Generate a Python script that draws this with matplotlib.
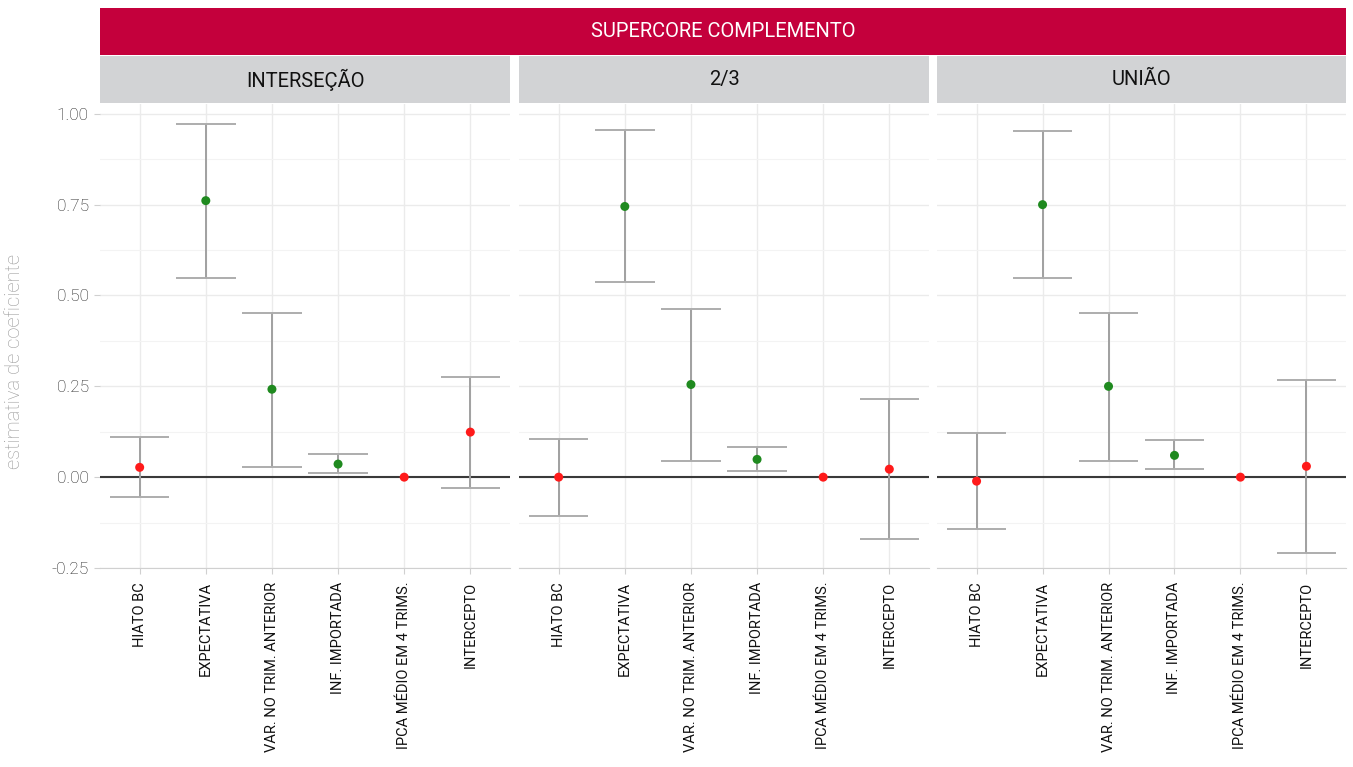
import numpy as np
import matplotlib.pyplot as plt

# categories and panels
variaveis = ["HIATO BC", "EXPECTATIVA", "VAR. NO TRIM. ANTERIOR",
             "INF. IMPORTADA", "IPCA MÉDIO EM 4 TRIMS.", "INTERCEPTO"]
paineis = ["INTERSEÇÃO", "2/3", "UNIÃO"]

# estimates, lower and upper bounds per panel
est_intersecao = [0.027, 0.761, 0.242, 0.036, 0.0, 0.124]
inf_intersecao = [-0.055, 0.549, 0.027, 0.011, 0.0, -0.030]
sup_intersecao = [0.110, 0.973, 0.453, 0.063, 0.0, 0.275]

est_23 = [0.0, 0.745, 0.255, 0.049, 0.0, 0.022]
inf_23 = [-0.107, 0.536, 0.044, 0.016, 0.0, -0.170]
sup_23 = [0.104, 0.956, 0.464, 0.082, 0.0, 0.214]

est_uniao = [-0.011, 0.750, 0.250, 0.060, 0.0, 0.030]
inf_uniao = [-0.143, 0.547, 0.044, 0.022, 0.0, -0.208]
sup_uniao = [0.121, 0.953, 0.453, 0.101, 0.0, 0.268]

# significant (green) or not (red)
signif = [False, True, True, True, False, False]

dados = [(est_intersecao, inf_intersecao, sup_intersecao),
         (est_23, inf_23, sup_23),
         (est_uniao, inf_uniao, sup_uniao)]

W, H = 1353, 767
fig = plt.figure(figsize=(W / 100, H / 100), dpi=100)
fam = ["Roboto", "DejaVu Sans"]

def px(x0, y0, w, h):
    return [x0 / W, 1 - (y0 + h) / H, w / W, h / H]

lefts = [100, 519, 937]
widths = [410, 410, 409]
top, bottom = 104, 568

# red outer strip
ax_r = fig.add_axes(px(100, 8, 1246, 47))
ax_r.set_facecolor("#c4003c")
ax_r.set_xticks([]); ax_r.set_yticks([])
for s in ax_r.spines.values():
    s.set_visible(False)
ax_r.text(0.5, 0.5, "SUPERCORE COMPLEMENTO", color="white", fontsize=14.5,
          ha="center", va="center", family=fam, transform=ax_r.transAxes)

x = np.arange(1, len(variaveis) + 1)
for i, (nome, (est, lo, hi)) in enumerate(zip(paineis, dados)):
    # gray strip
    ax_s = fig.add_axes(px(lefts[i], 56, widths[i], 47))
    ax_s.set_facecolor("#d2d3d5")
    ax_s.set_xticks([]); ax_s.set_yticks([])
    for s in ax_s.spines.values():
        s.set_visible(False)
    ax_s.text(0.5, 0.5, nome, color="#111111", fontsize=14.5, ha="center",
              va="center", family=fam, transform=ax_s.transAxes)

    ax = fig.add_axes(px(lefts[i], top, widths[i], bottom - top))
    est = np.array(est); lo = np.array(lo); hi = np.array(hi)
    ax.set_xlim(0.4, 6.6)
    ax.set_ylim(-0.25, 1.027)
    ax.set_yticks([-0.25, 0, 0.25, 0.5, 0.75, 1.0])
    ax.set_yticks(np.arange(-0.125, 1.0, 0.25), minor=True)
    ax.set_xticks(x)
    ax.grid(True, which="major", color="#ebebeb", lw=1)
    ax.grid(True, which="minor", axis="y", color="#f3f3f3", lw=0.8)
    ax.set_axisbelow(True)
    ax.axhline(0, color="#3a3a3a", lw=1.5, zorder=2)

    mask = hi > lo
    ax.vlines(x[mask], lo[mask], hi[mask], color="#a0a0a0", lw=1.4, zorder=3)
    ax.hlines(lo[mask], x[mask] - 0.45, x[mask] + 0.45, color="#adadad", lw=1.4, zorder=3)
    ax.hlines(hi[mask], x[mask] - 0.45, x[mask] + 0.45, color="#adadad", lw=1.4, zorder=3)

    cores = ["#1f8a1f" if s else "#ff1a1a" for s in signif]
    ax.scatter(x, est, c=cores, s=42, zorder=4, edgecolors="none")

    for s in ["top", "right", "left"]:
        ax.spines[s].set_visible(False)
    ax.spines["bottom"].set_color("#d0d0d0")
    ax.tick_params(axis="x", length=4, color="#d0d0d0", pad=6)
    ax.tick_params(axis="y", which="major", length=4, color="#d0d0d0", pad=4)
    ax.tick_params(axis="y", which="minor", length=0)
    ax.set_xticklabels(variaveis, rotation=90, fontsize=10.5, color="#111111",
                       family=fam, va="top", ha="center")
    if i == 0:
        ax.set_yticklabels(["-0.25", "0.00", "0.25", "0.50", "0.75", "1.00"],
                           fontsize=12.5, color="#1e1e1e", family=fam,
                           fontweight="light")
    else:
        ax.set_yticklabels([])
        ax.tick_params(axis="y", which="major", length=0)

fig.text(15 / W, 1 - 361 / H, "estimativa de coeficiente",
         rotation=90, ha="center", va="center", fontsize=14.5, color="#999999",
         family=fam, fontweight="light")

fig.savefig("out.png", dpi=100)
